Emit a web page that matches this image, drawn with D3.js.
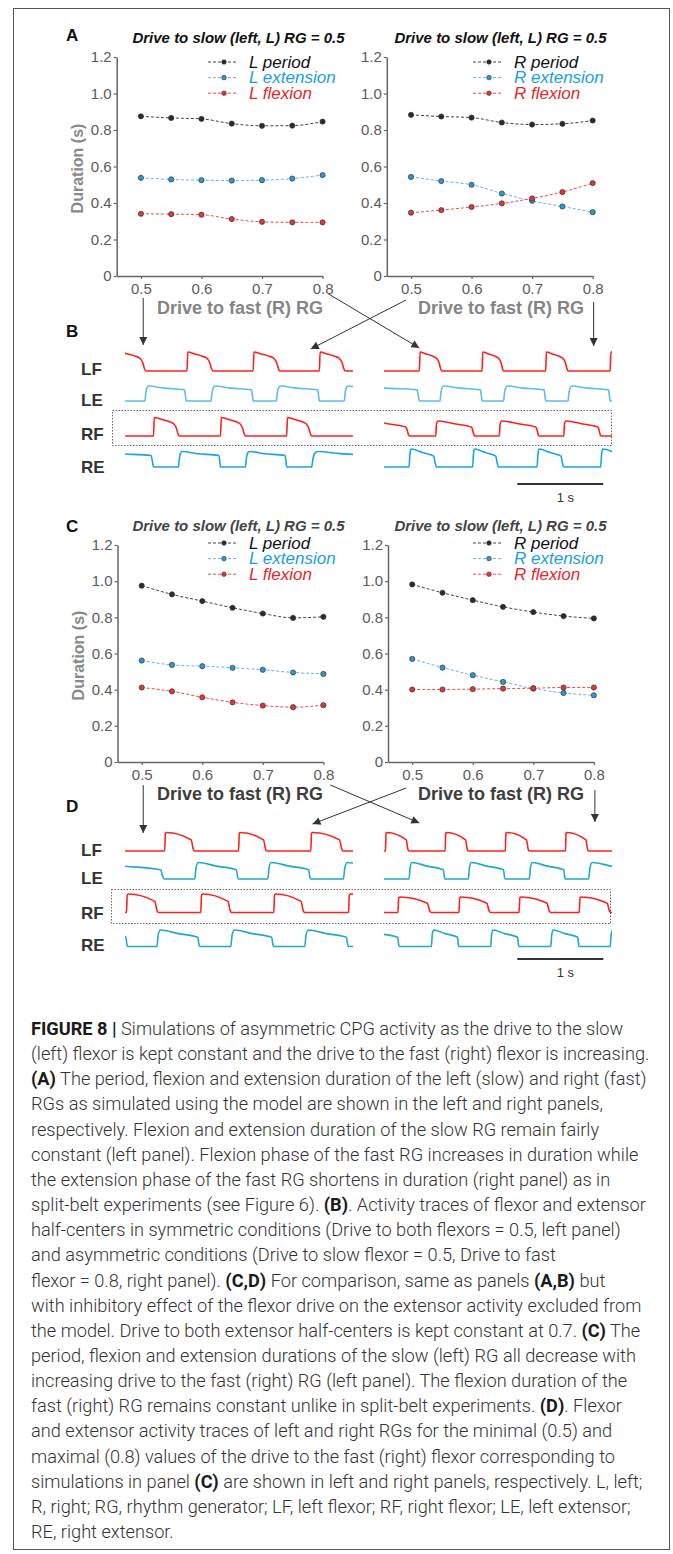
<!DOCTYPE html>
<html>
<head>
<meta charset="utf-8">
<script src="https://cdn.jsdelivr.net/npm/d3@7"></script>
<style>
  body { margin: 0; background: #fff; }
  svg { display: block; font-family: "Liberation Sans", Arial, sans-serif; }
</style>
</head>
<body>
<svg id="fig" width="673" height="1554"></svg>
<script>
// ---- data ----
const drive = [0.5, 0.55, 0.6, 0.65, 0.7, 0.75, 0.8];
const yTicks = [0, 0.2, 0.4, 0.6, 0.8, 1.0, 1.2];
const xTicks = [0.5, 0.6, 0.7, 0.8];

// panel A (with flexor drive inhibition of extensor)
const aLeftPeriod = [0.875, 0.866, 0.861, 0.835, 0.823, 0.824, 0.846];
const aLeftExtension = [0.538, 0.529, 0.525, 0.523, 0.525, 0.534, 0.553];
const aLeftFlexion = [0.341, 0.339, 0.336, 0.312, 0.297, 0.294, 0.294];
const aRightPeriod = [0.883, 0.874, 0.868, 0.841, 0.830, 0.834, 0.852];
const aRightExtension = [0.543, 0.520, 0.500, 0.452, 0.412, 0.381, 0.350];
const aRightFlexion = [0.347, 0.361, 0.378, 0.398, 0.425, 0.460, 0.509];

// panel C (inhibitory effect removed)
const cLeftPeriod = [0.975, 0.927, 0.890, 0.853, 0.821, 0.797, 0.803];
const cLeftExtension = [0.561, 0.537, 0.530, 0.521, 0.510, 0.495, 0.487];
const cLeftFlexion = [0.412, 0.391, 0.358, 0.330, 0.312, 0.303, 0.314];
const cRightPeriod = [0.982, 0.936, 0.895, 0.858, 0.829, 0.807, 0.794];
const cRightExtension = [0.570, 0.522, 0.480, 0.443, 0.406, 0.382, 0.369];
const cRightFlexion = [0.401, 0.401, 0.403, 0.406, 0.408, 0.412, 0.412];

// activity bursts [onset, offset] in seconds, trace window 0..2.63 s
const traceWindow = [0, 2.63];
const traceNames = ["LF", "LE", "RF", "RE"];
const bLeftLF = [[-0.07, 0.23], [0.71, 1.01], [1.48, 1.79], [2.25, 2.55]];
const bLeftLE = [[0.22, 0.70], [0.99, 1.48], [1.75, 2.25], [2.54, 3.0]];
const bLeftRF = [[0.32, 0.62], [1.10, 1.39], [1.87, 2.16]];
const bLeftRE = [[-0.4, 0.32], [0.61, 1.10], [1.39, 1.87], [2.16, 2.9]];
const bRightLF = [[0.40, 0.66], [1.13, 1.38], [1.87, 2.13], [2.62, 2.9]];
const bRightLE = [[-0.3, 0.40], [0.64, 1.13], [1.38, 1.87], [2.13, 2.62]];
const bRightRF = [[-0.2, 0.29], [0.59, 1.05], [1.33, 1.80], [2.08, 2.52]];
const bRightRE = [[0.28, 0.60], [1.02, 1.32], [1.77, 2.08], [2.51, 2.85]];
const dLeftLF = [[0.45, 0.80], [1.31, 1.64], [2.15, 2.53]];
const dLeftLE = [[-0.5, 0.45], [0.80, 1.31], [1.65, 2.15], [2.53, 3.1]];
const dLeftRF = [[0.005, 0.38], [0.87, 1.23], [1.72, 2.08], [2.59, 2.95]];
const dLeftRE = [[-0.4, 0.02], [0.36, 0.86], [1.22, 1.72], [2.08, 2.59]];
const dRightLF = [[0.005, 0.28], [0.70, 0.97], [1.40, 1.68], [2.10, 2.37]];
const dRightLE = [[0.28, 0.70], [0.97, 1.40], [1.68, 2.10], [2.37, 2.9]];
const dRightRF = [[0.15, 0.54], [0.86, 1.23], [1.56, 1.93], [2.26, 2.63]];
const dRightRE = [[-0.3, 0.17], [0.54, 0.86], [1.23, 1.56], [1.93, 2.26], [2.62, 3.0]];

// burst shapes: [fraction of burst, relative level]
const flexB = [[0, 0], [0.03, 1], [0.3, 0.9], [0.6, 0.78], [0.78, 0.66], [0.88, 0.45], [0.95, 0.12], [1, 0]];
const flexBlong = [[0, 0], [0.02, 0.8], [0.06, 1], [0.5, 0.8], [0.9, 0.6], [0.93, 0.45], [0.97, 0.05], [1, 0]];
const extB = [[0, 0], [0.02, 0.5], [0.05, 0.88], [0.1, 1], [0.45, 0.86], [0.96, 0.74], [0.985, 0.3], [1, 0]];
const extBshort = [[0, 0], [0.03, 0.7], [0.07, 1], [0.5, 0.8], [0.9, 0.6], [0.94, 0.3], [1, 0]];
const flexD = [[0, 0], [0.025, 0.95], [0.06, 1], [0.88, 0.6], [0.95, 0.1], [1, 0]];
const extD = [[0, 0], [0.03, 0.7], [0.08, 1], [0.5, 0.78], [0.95, 0.56], [0.98, 0.1], [1, 0]];

const title = "Drive to slow (left, L) RG = 0.5";
const xTitle = "Drive to fast (R) RG";
const yTitle = "Duration (s)";

const caption = [
  "**FIGURE 8 |** Simulations of asymmetric CPG activity as the drive to the slow",
  "(left) flexor is kept constant and the drive to the fast (right) flexor is increasing.",
  "**(A)** The period, flexion and extension duration of the left (slow) and right (fast)",
  "RGs as simulated using the model are shown in the left and right panels,",
  "respectively. Flexion and extension duration of the slow RG remain fairly",
  "constant (left panel). Flexion phase of the fast RG increases in duration while",
  "the extension phase of the fast RG shortens in duration (right panel) as in",
  "split-belt experiments (see Figure 6). **(B)**. Activity traces of flexor and extensor",
  "half-centers in symmetric conditions (Drive to both flexors = 0.5, left panel)",
  "and asymmetric conditions (Drive to slow flexor = 0.5, Drive to fast",
  "flexor = 0.8, right panel). **(C,D)** For comparison, same as panels **(A,B)** but",
  "with inhibitory effect of the flexor drive on the extensor activity excluded from",
  "the model. Drive to both extensor half-centers is kept constant at 0.7. **(C)** The",
  "period, flexion and extension durations of the slow (left) RG all decrease with",
  "increasing drive to the fast (right) RG (left panel). The flexion duration of the",
  "fast (right) RG remains constant unlike in split-belt experiments. **(D)**. Flexor",
  "and extensor activity traces of left and right RGs for the minimal (0.5) and",
  "maximal (0.8) values of the drive to the fast (right) flexor corresponding to",
  "simulations in panel **(C)** are shown in left and right panels, respectively. L, left;",
  "R, right; RG, rhythm generator; LF, left flexor; RF, right flexor; LE, left extensor;",
  "RE, right extensor."
];

// ---- drawing ----
const svg = d3.select("#fig");

svg.append("rect")
    .attr("x", 13.5).attr("y", 8.5)
    .attr("width", 656).attr("height", 1541)
    .attr("fill", "none").attr("stroke", "#555").attr("stroke-width", 1);

const defs = svg.append("defs");
defs.append("marker")
    .attr("id", "ah")
    .attr("viewBox", "0 0 10 10")
    .attr("refX", 10).attr("refY", 5)
    .attr("markerWidth", 9).attr("markerHeight", 8)
    .attr("markerUnits", "userSpaceOnUse")
    .attr("orient", "auto")
    .append("path").attr("d", "M0,0L10,5L0,10z").attr("fill", "#333");

const seriesStyle = [
    { key: "period", line: "#444", dot: "#2b2b2b", text: "#111" },
    { key: "extension", line: "#6ab4dc", dot: "#2a9ad4", text: "#1a9ee0" },
    { key: "flexion", line: "#ef4a4a", dot: "#e23535", text: "#e8262a" }
];

function panelLetter(txt, x, y) {
    svg.append("text").attr("x", x).attr("y", y)
        .attr("font-size", 17).attr("font-weight", "bold").attr("fill", "#111")
        .text(txt);
}

function durationPanel(p) {
    const x = d3.scaleLinear().domain([0.46, 0.8]).range([p.x0, p.x0 + 0.34 * 605.5]);
    const y = d3.scaleLinear().domain([0, 1.2]).range([p.bottom, p.top]);
    const g = svg.append("g");

    const ax = g.append("g")
        .attr("transform", `translate(0,${p.bottom})`)
        .call(d3.axisBottom(x).tickValues(xTicks).tickFormat(d3.format(".1f"))
            .tickSize(3).tickSizeOuter(0).tickPadding(4));
    const ay = g.append("g")
        .attr("transform", `translate(${p.x0},0)`)
        .call(d3.axisLeft(y).tickValues(yTicks)
            .tickFormat(d => d === 0 ? "0" : d3.format(".1f")(d))
            .tickSize(3).tickSizeOuter(0).tickPadding(2));
    [ax, ay].forEach(a => {
        a.select(".domain").attr("stroke", "#666").attr("stroke-width", 1.5);
        a.selectAll(".tick line").attr("stroke", "#666").attr("stroke-width", 1.2);
        a.selectAll(".tick text").attr("fill", "#5a5a5a").attr("font-size", 15)
            .attr("font-family", "Liberation Sans, Arial, sans-serif");
    });

    g.append("text")
        .attr("x", p.titleX).attr("y", p.top - 14)
        .attr("text-anchor", "middle")
        .attr("font-size", 15).attr("font-weight", "bold").attr("font-style", "italic")
        .attr("fill", p.titleColor)
        .text(title);

    g.append("text")
        .attr("x", p.xTitleX).attr("y", p.bottom + 38)
        .attr("text-anchor", "middle")
        .attr("font-size", 18).attr("font-weight", "bold")
        .attr("fill", p.xTitleColor)
        .text(xTitle);

    if (p.yTitle) {
        g.append("text")
            .attr("transform", `translate(${p.x0 - 34},${y(0.6) + 2}) rotate(-90)`)
            .attr("text-anchor", "middle")
            .attr("font-size", 16).attr("font-weight", "bold")
            .attr("fill", "#8a8a8a")
            .text(yTitle);
    }

    const line = d3.line()
        .x((d, i) => x(drive[i]))
        .y(d => y(d))
        .curve(d3.curveMonotoneX);

    p.series.forEach((vals, k) => {
        const st = seriesStyle[k];
        g.append("path")
            .attr("d", line(vals))
            .attr("fill", "none")
            .attr("stroke", st.line).attr("stroke-width", 1)
            .attr("stroke-dasharray", "3,2");
        g.selectAll(null).data(vals).enter().append("circle")
            .attr("cx", (d, i) => x(drive[i]))
            .attr("cy", d => y(d))
            .attr("r", 2.6)
            .attr("fill", st.dot).attr("stroke", "#333").attr("stroke-width", 0.7);

        // legend
        const ly = p.legendTop + k * 15.6;
        g.append("line")
            .attr("x1", p.legendX).attr("x2", p.legendX + 30)
            .attr("y1", ly).attr("y2", ly)
            .attr("stroke", st.line).attr("stroke-width", 1).attr("stroke-dasharray", "3,2");
        g.append("circle")
            .attr("cx", p.legendX + 16).attr("cy", ly).attr("r", 2.3)
            .attr("fill", st.dot).attr("stroke", "#333").attr("stroke-width", 0.6);
        g.append("text")
            .attr("x", p.legendX + 41).attr("y", ly + 5.5)
            .attr("font-size", 17).attr("font-style", "italic")
            .attr("fill", st.text)
            .text(`${p.side} ${st.key}`);
    });
    return x;
}

const xAL = durationPanel({ x0: 116.7, top: 57, bottom: 276, side: "L",
    series: [aLeftPeriod, aLeftExtension, aLeftFlexion],
    titleX: 238.5, titleColor: "#111", xTitleX: 240, xTitleColor: "#858585", yTitle: true,
    legendX: 208, legendTop: 62 });
const xAR = durationPanel({ x0: 386.8, top: 57, bottom: 276, side: "R",
    series: [aRightPeriod, aRightExtension, aRightFlexion],
    titleX: 500.5, titleColor: "#111", xTitleX: 501, xTitleColor: "#858585", yTitle: false,
    legendX: 473, legendTop: 62 });
const xCL = durationPanel({ x0: 117.5, top: 545, bottom: 762, side: "L",
    series: [cLeftPeriod, cLeftExtension, cLeftFlexion],
    titleX: 238.5, titleColor: "#444", xTitleX: 240, xTitleColor: "#3d3d3d", yTitle: true,
    legendX: 208, legendTop: 543 });
const xCR = durationPanel({ x0: 388, top: 545, bottom: 762, side: "R",
    series: [cRightPeriod, cRightExtension, cRightFlexion],
    titleX: 500.5, titleColor: "#444", xTitleX: 501, xTitleColor: "#3d3d3d", yTitle: false,
    legendX: 473, legendTop: 543 });

panelLetter("A", 66, 41);
panelLetter("B", 66, 337);
panelLetter("C", 66, 532);
panelLetter("D", 66, 812);

// ---- activity traces ----
const tLeft = d3.scaleLinear().domain(traceWindow).range([126, 352]);
const tRight = d3.scaleLinear().domain(traceWindow).range([385, 611]);
let clipId = 0;

function traceRow(t, bursts, shape, base, amp, color) {
    const y = d3.scaleLinear().domain([0, 1]).range([base, base - amp]);
    const pts = [[bursts[0][0] - 1, 0]];
    bursts.forEach(([on, off]) => {
        shape.forEach(([f, v]) => pts.push([on + f * (off - on), v]));
    });
    pts.push([bursts[bursts.length - 1][1] + 1, 0]);
    const id = "clip" + (clipId++);
    defs.append("clipPath").attr("id", id).append("rect")
        .attr("x", t.range()[0] - 1).attr("width", t.range()[1] - t.range()[0] + 2)
        .attr("y", base - amp - 5).attr("height", amp + 10);
    const line = d3.line().x(d => t(d[0])).y(d => y(d[1])).curve(d3.curveMonotoneX);
    svg.append("path")
        .attr("clip-path", `url(#${id})`)
        .attr("d", line(pts))
        .attr("fill", "none").attr("stroke", color).attr("stroke-width", 1.6)
        .attr("stroke-linejoin", "round");
}

function tracePanel(cfg) {
    traceNames.forEach((nm, i) => {
        svg.append("text").attr("x", 81).attr("y", cfg.labelY[i] + 6)
            .attr("font-size", 17).attr("font-weight", "bold").attr("fill", "#333")
            .text(nm);
    });
    cfg.rows.forEach(r => traceRow(r.t, r.bursts, r.shape, cfg.base[r.i], r.amp, r.color));
    svg.append("rect")
        .attr("x", cfg.box[0] + 0.5).attr("y", cfg.box[1] + 0.5)
        .attr("width", cfg.box[2]).attr("height", cfg.box[3])
        .attr("fill", "none").attr("stroke", "#555").attr("stroke-width", 0.9)
        .attr("stroke-dasharray", "1.5,1.5");
    svg.append("line")
        .attr("x1", tRight(1.54)).attr("x2", tRight(2.54))
        .attr("y1", cfg.barY).attr("y2", cfg.barY)
        .attr("stroke", "#333").attr("stroke-width", 2.2);
    svg.append("text")
        .attr("x", tRight(2.1)).attr("y", cfg.barY + 18)
        .attr("text-anchor", "middle").attr("font-size", 13).attr("fill", "#333")
        .text("1 s");
}

const redF = "#ff1f1f", blueLE = "#5cbde9", blueRE = "#19a3e8", tealD = "#1fa9c9";

tracePanel({
    labelY: [369, 400, 434, 467], base: [371, 401, 436, 467],
    box: [112, 410, 499, 35], barY: 484,
    rows: [
        { i: 0, t: tLeft, bursts: bLeftLF, shape: flexB, amp: 19, color: redF },
        { i: 1, t: tLeft, bursts: bLeftLE, shape: extB, amp: 15, color: blueLE },
        { i: 2, t: tLeft, bursts: bLeftRF, shape: flexB, amp: 18.5, color: redF },
        { i: 3, t: tLeft, bursts: bLeftRE, shape: extB, amp: 15.5, color: blueRE },
        { i: 0, t: tRight, bursts: bRightLF, shape: flexB, amp: 19, color: redF },
        { i: 1, t: tRight, bursts: bRightLE, shape: extB, amp: 15, color: blueLE },
        { i: 2, t: tRight, bursts: bRightRF, shape: flexBlong, amp: 15, color: redF },
        { i: 3, t: tRight, bursts: bRightRE, shape: extBshort, amp: 18, color: blueRE }
    ]
});

tracePanel({
    labelY: [850, 878, 913, 945], base: [851, 879, 912.5, 946.5],
    box: [111, 889, 499, 34], barY: 959,
    rows: [
        { i: 0, t: tLeft, bursts: dLeftLF, shape: flexD, amp: 18.5, color: redF },
        { i: 1, t: tLeft, bursts: dLeftLE, shape: extD, amp: 16.5, color: tealD },
        { i: 2, t: tLeft, bursts: dLeftRF, shape: flexD, amp: 18.5, color: redF },
        { i: 3, t: tLeft, bursts: dLeftRE, shape: extD, amp: 16.5, color: tealD },
        { i: 0, t: tRight, bursts: dRightLF, shape: flexD, amp: 18.5, color: redF },
        { i: 1, t: tRight, bursts: dRightLE, shape: extD, amp: 16.5, color: tealD },
        { i: 2, t: tRight, bursts: dRightRF, shape: flexD, amp: 15.5, color: redF },
        { i: 3, t: tRight, bursts: dRightRE, shape: extD, amp: 16.5, color: tealD }
    ]
});

// ---- arrows linking drive values to traces ----
function arrow(x1, y1, x2, y2) {
    svg.append("line")
        .attr("x1", x1).attr("y1", y1).attr("x2", x2).attr("y2", y2)
        .attr("stroke", "#333").attr("stroke-width", 1)
        .attr("marker-end", "url(#ah)");
}
arrow(xAL(0.5) + 2.3, 298, xAL(0.5) + 2.3, 345);
arrow(xAL(0.8) + 6, 294, tRight(0.40), 348);
arrow(xAR(0.5) - 5, 300, tLeft(2.15), 349);
arrow(xAR(0.8) + 1, 302, xAR(0.8) + 1, 346);

arrow(xCL(0.5) + 1.5, 785, xCL(0.5) + 1.5, 833);
arrow(xCL(0.8) + 7, 785, tRight(0.40), 823);
arrow(xCR(0.5) - 6, 788, tLeft(2.17), 824);
arrow(xCR(0.8) + 1, 790, xCR(0.8) + 1, 822);

// ---- caption ----
const cap = svg.append("g").attr("font-family", "Roboto, 'Liberation Sans', sans-serif")
    .attr("font-size", 18.2).attr("fill", "#333");
caption.forEach((ln, i) => {
    const t = cap.append("text").attr("x", 31).attr("y", 1035 + i * 25.15);
    ln.split("**").forEach((part, j) => {
        if (!part) return;
        t.append("tspan")
            .attr("font-weight", j % 2 ? 700 : 300)
            .attr("fill", j % 2 ? "#1a1a1a" : "#333")
            .text(part);
    });
});
</script>
</body>
</html>
